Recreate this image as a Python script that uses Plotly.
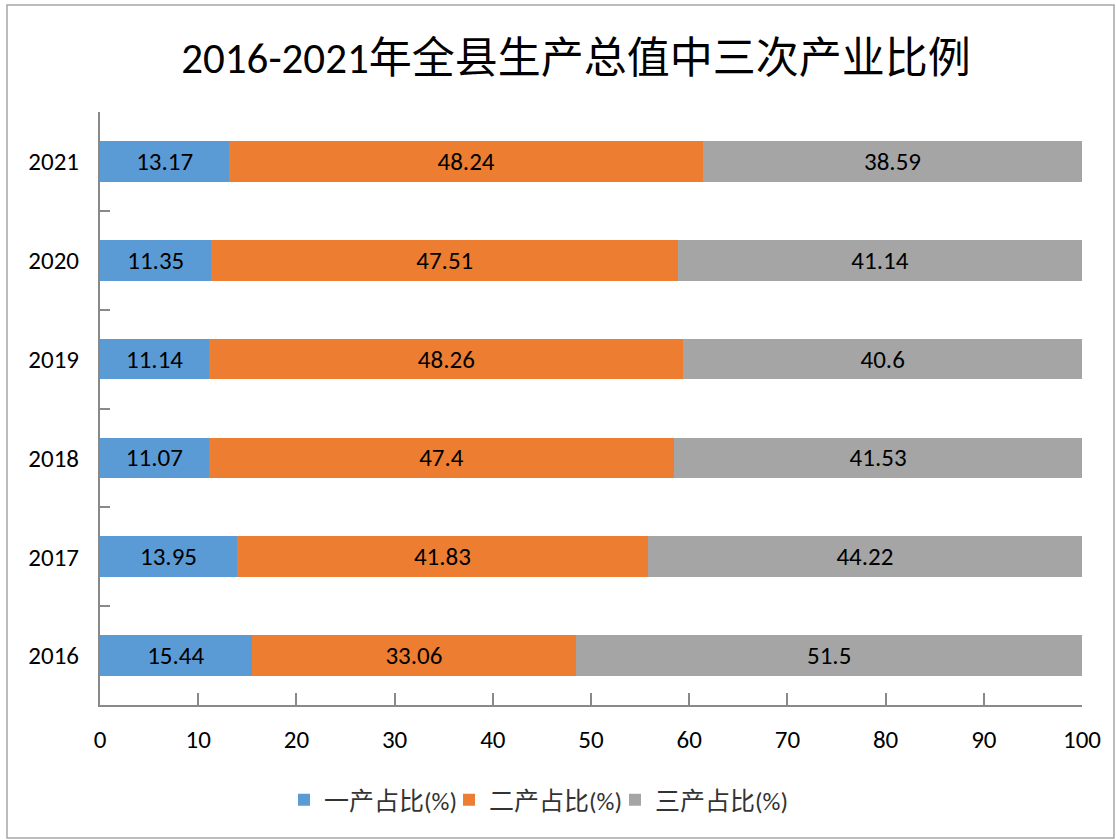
import plotly.graph_objects as go

years = ["2016", "2017", "2018", "2019", "2020", "2021"]
primary = [15.44, 13.95, 11.07, 11.14, 11.35, 13.17]
secondary = [33.06, 41.83, 47.4, 48.26, 47.51, 48.24]
tertiary = [51.5, 44.22, 41.53, 40.6, 41.14, 38.59]
series_names = ["一产占比(%)", "二产占比(%)", "三产占比(%)"]
colors = ["#5B9BD5", "#ED7D31", "#A5A5A5"]
x_ticks = [0, 10, 20, 30, 40, 50, 60, 70, 80, 90, 100]

FONT = "Carlito, Calibri, 'Noto Sans CJK SC', sans-serif"
legend_ids = ["legend", "legend2", "legend3"]
legend_square_px = [299, 464, 630]

fig = go.Figure()
for name, vals, col, lg in zip(series_names, [primary, secondary, tertiary], colors, legend_ids):
    fig.add_trace(go.Bar(
        y=years, x=vals, name=name, orientation="h",
        marker=dict(color=col, line=dict(width=0)),
        text=vals, texttemplate="%{x}", textposition="inside",
        insidetextanchor="middle",
        textfont=dict(color="black", size=25, family=FONT),
        cliponaxis=False, legend=lg,
    ))

W, H = 1116, 840
L, R, T, B = 100, 34, 112, 135
pw, ph = W - L - R, H - T - B

legend_style = dict(orientation="h", xref="container", xanchor="left",
                    yref="container", y=1 - 800 / H, yanchor="middle",
                    font=dict(size=25, family=FONT, color="#333333"),
                    itemwidth=30, bgcolor="rgba(0,0,0,0)")

fig.update_layout(
    width=W, height=H,
    barmode="stack", bargap=0.59,
    plot_bgcolor="white", paper_bgcolor="white",
    margin=dict(l=L, r=R, t=T, b=B, autoexpand=False),
    font=dict(family=FONT, size=25, color="black"),
    title=dict(text="2016-2021年全县生产总值中三次产业比例",
               x=576 / W, xref="container", xanchor="center",
               y=1 - 58 / H, yref="container", yanchor="middle",
               font=dict(size=43, family=FONT, color="black")),
    showlegend=True,
    legend=dict(legend_style, x=(legend_square_px[0] - 15) / W),
    legend2=dict(legend_style, x=(legend_square_px[1] - 15) / W),
    legend3=dict(legend_style, x=(legend_square_px[2] - 15) / W),
    xaxis=dict(range=[0, 100], tickvals=x_ticks, ticks="inside", ticklen=12,
               tickcolor="#898989", tickwidth=1.5, showline=True, linecolor="#898989", linewidth=2,
               showgrid=False, zeroline=False, tickfont=dict(size=25),
               ticklabelstandoff=11),
    yaxis=dict(type="category", categoryorder="array", categoryarray=years,
               tickson="boundaries", ticks="inside", ticklen=10, tickcolor="#898989", tickwidth=1.5,
               showline=True, linecolor="#898989", linewidth=2, showgrid=False,
               tickfont=dict(size=25), ticklabelstandoff=14),
    shapes=[dict(type="rect", xref="paper", yref="paper",
                 x0=(7 - L) / pw, x1=(1114 - L) / pw,
                 y0=(H - B - 838) / ph, y1=(H - B - 5) / ph,
                 line=dict(color="#A6A6A6", width=1.5), fillcolor="rgba(0,0,0,0)", layer="below")],
)

fig.write_html("out.html", config={"displayModeBar": False},
               post_script="document.body.style.margin='0';")
